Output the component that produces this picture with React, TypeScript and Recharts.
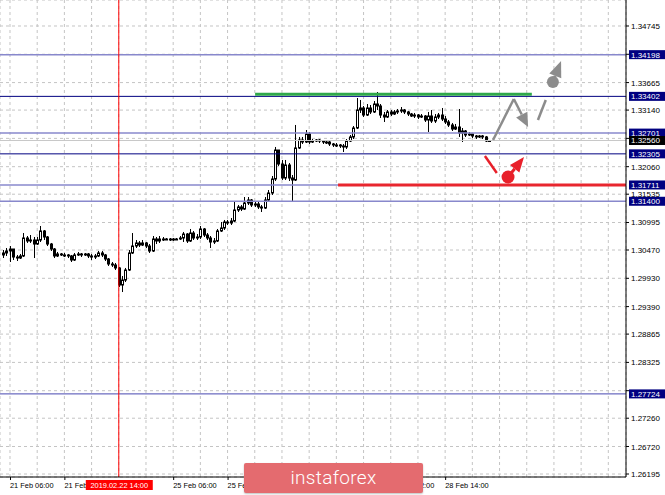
import React from 'react';
import { ComposedChart, Bar, XAxis, YAxis, CartesianGrid, ReferenceLine } from 'recharts';

// EURUSD-style H1 bars; bar 0 = 21 Feb 06:00, first bar in the list is index -2
const firstIndex = -2;
const firstOpen = 1.30375;
const closes = [
  1.30413, 1.30451, 1.30489, 1.30336, 1.30317, 1.30356, 1.30699, 1.30642, 1.30661, 1.30584,
  1.30661, 1.30833, 1.30718, 1.30584, 1.30489, 1.30356, 1.30394, 1.30375, 1.30375, 1.30356,
  1.30279, 1.30375, 1.30394, 1.30375, 1.30394, 1.30356, 1.30336, 1.30356, 1.30413, 1.30375,
  1.30298, 1.30203, 1.30184, 1.30127, 1.29802, 1.29897, 1.30088, 1.30413, 1.30546, 1.30604,
  1.30565, 1.30604, 1.30546, 1.30451, 1.30680, 1.30642, 1.30680, 1.30680, 1.30680, 1.30661,
  1.30680, 1.30680, 1.30699, 1.30775, 1.30642, 1.30794, 1.30699, 1.30718, 1.30871, 1.30756,
  1.30699, 1.30623, 1.30642, 1.30833, 1.30890, 1.31004, 1.30985, 1.31023, 1.31233, 1.31291,
  1.31252, 1.31367, 1.31424, 1.31329, 1.31348, 1.31291, 1.31271, 1.31424, 1.31558, 1.31825,
  1.32378, 1.32111, 1.31844, 1.32092, 1.31844, 1.31806, 1.32417, 1.32569, 1.32531, 1.32684,
  1.32531, 1.32550, 1.32569, 1.32550, 1.32531, 1.32531, 1.32493, 1.32474, 1.32474, 1.32455,
  1.32436, 1.32550, 1.32627, 1.32798, 1.33142, 1.33180, 1.33046, 1.33180, 1.33104, 1.33256,
  1.33218, 1.33046, 1.33008, 1.33104, 1.33065, 1.33104, 1.33123, 1.33142, 1.33104, 1.33065,
  1.33027, 1.33046, 1.33008, 1.33027, 1.32951, 1.33027, 1.32932, 1.33008, 1.33046, 1.32970,
  1.32913, 1.32856, 1.32779, 1.32817, 1.32703, 1.32741, 1.32665, 1.32684, 1.32646, 1.32627,
  1.32646, 1.32627, 1.32550, 1.32560,
];
const highs = [
  1.30470, 1.30508, 1.30546, 1.30489, 1.30375, 1.30394, 1.30794, 1.30737, 1.30756, 1.30718,
  1.30718, 1.30928, 1.30852, 1.30737, 1.30604, 1.30508, 1.30432, 1.30413, 1.30413, 1.30394,
  1.30375, 1.30413, 1.30432, 1.30413, 1.30413, 1.30413, 1.30394, 1.30394, 1.30451, 1.30451,
  1.30394, 1.30317, 1.30241, 1.30222, 1.30146, 1.29974, 1.30127, 1.30470, 1.30794, 1.30661,
  1.30642, 1.30661, 1.30623, 1.30584, 1.30737, 1.30718, 1.30737, 1.30718, 1.30699, 1.30699,
  1.30699, 1.30699, 1.30737, 1.30814, 1.30794, 1.30871, 1.30833, 1.30775, 1.30928, 1.30890,
  1.30794, 1.30737, 1.30699, 1.30871, 1.31004, 1.31043, 1.31043, 1.31081, 1.31386, 1.31329,
  1.31329, 1.31481, 1.31481, 1.31443, 1.31386, 1.31386, 1.31329, 1.31481, 1.31615, 1.31882,
  1.32436, 1.32378, 1.32188, 1.32188, 1.32130, 1.31901, 1.32856, 1.32627, 1.32627, 1.32760,
  1.32722, 1.32588, 1.32588, 1.32588, 1.32569, 1.32569, 1.32550, 1.32512, 1.32512, 1.32493,
  1.32493, 1.32588, 1.32665, 1.32836, 1.33371, 1.33333, 1.33218, 1.33256, 1.33237, 1.33313,
  1.33485, 1.33256, 1.33104, 1.33142, 1.33142, 1.33142, 1.33161, 1.33199, 1.33161, 1.33123,
  1.33085, 1.33085, 1.33065, 1.33065, 1.33046, 1.33104, 1.33142, 1.33065, 1.33085, 1.33180,
  1.33027, 1.32951, 1.32894, 1.32875, 1.33161, 1.32798, 1.32760, 1.32722, 1.32684, 1.32665,
  1.32665, 1.32665, 1.32646, 1.32569,
];
const lows = [
  1.30317, 1.30356, 1.30241, 1.30279, 1.30260, 1.30298, 1.30336, 1.30604, 1.30604, 1.30317,
  1.30565, 1.30623, 1.30661, 1.30546, 1.30451, 1.30317, 1.30336, 1.30356, 1.30336, 1.30317,
  1.30241, 1.30260, 1.30356, 1.30336, 1.30356, 1.30317, 1.30279, 1.30298, 1.30336, 1.30336,
  1.30260, 1.30165, 1.30146, 1.30088, 1.29764, 1.29668, 1.29859, 1.30069, 1.30394, 1.30508,
  1.30527, 1.30546, 1.30508, 1.30413, 1.30432, 1.30584, 1.30604, 1.30642, 1.30661, 1.30642,
  1.30642, 1.30661, 1.30661, 1.30623, 1.30604, 1.30623, 1.30661, 1.30661, 1.30680, 1.30718,
  1.30661, 1.30508, 1.30584, 1.30623, 1.30814, 1.30852, 1.30947, 1.30947, 1.31004, 1.31195,
  1.31214, 1.31233, 1.31329, 1.31291, 1.31291, 1.31252, 1.31195, 1.31252, 1.31405, 1.31520,
  1.31787, 1.32073, 1.31806, 1.31806, 1.31787, 1.31405, 1.31787, 1.32398, 1.32493, 1.32512,
  1.32493, 1.32512, 1.32531, 1.32512, 1.32493, 1.32493, 1.32455, 1.32436, 1.32436, 1.32417,
  1.32340, 1.32398, 1.32531, 1.32588, 1.32779, 1.33085, 1.33008, 1.33027, 1.33065, 1.33085,
  1.33142, 1.32989, 1.32913, 1.32989, 1.33027, 1.33046, 1.33065, 1.33085, 1.33065, 1.33027,
  1.33008, 1.32989, 1.32970, 1.32989, 1.32913, 1.32722, 1.32894, 1.32894, 1.32970, 1.32932,
  1.32875, 1.32817, 1.32741, 1.32760, 1.32627, 1.32531, 1.32627, 1.32646, 1.32607, 1.32588,
  1.32607, 1.32588, 1.32531, 1.32531,
];

// time axis: label every 16 bars, grid every 8.
// 26 Feb 14:00 / 27 Feb 06:00 sit fully under the logo
const labelBars = [0, 16, 48, 64, 112, 128];
const timeLabels = ['21 Feb 06:00', '21 Feb 22:00', '25 Feb 06:00', '25 Feb 22:00', '27 Feb 22:00', '28 Feb 14:00'];
const tickOnlyBars = [80, 96];
const gridBars = [0, 8, 16, 24, 32, 40, 48, 56, 64, 72, 80, 88, 96, 104, 112, 120, 128, 136, 144, 152, 160, 168, 176];

// price scale ticks
const priceTicks = [1.34745, 1.34205, 1.33665, 1.33140, 1.32600, 1.32060, 1.31535, 1.30995, 1.30470,
  1.29930, 1.29390, 1.28865, 1.28325, 1.27785, 1.27260, 1.26720, 1.26195];
const hiddenTicks = [1.34205, 1.32600, 1.27785];

// horizontal levels
const levelPrices = [1.34198, 1.33402, 1.32701, 1.32560, 1.32305, 1.31711, 1.31400, 1.27724];
const levelKinds = ['light', 'dark', 'light', 'bid', 'dark', 'light', 'light', 'mid'];

// crosshair bar with its date box on the time axis
const markedBar = 32;
const markedLabel = '2019.02.22 14:00';

const resistancePrice = 1.33440;
const resistanceFrom = 72.1;
const resistanceTo = 153.5;
const supportPrice = 1.31711;
const supportFrom = 96.5;

// forecast arrows (bar index, price)
const grayPath = [[142.1, 1.32569], [148.2, 1.33352], [152.4, 1.32817]];
const grayDash = [[155.3, 1.32951], [157.6, 1.33333]];
const grayPin = [[159.7, 1.33676], [162.1, 1.34077]];
const redDash = [[139.7, 1.32264], [143.2, 1.31940]];
const redPin = [[146.5, 1.31863], [151.2, 1.32245]];

const X_MIN = -2.94;
const X_MAX = 181.2;
const Y_MIN = 1.26138;
const Y_MAX = 1.35241;

const FONT = '"Liberation Sans", Arial, sans-serif';

const rows = closes.map((close, k) => {
  const open = k === 0 ? firstOpen : closes[k - 1];
  return { i: firstIndex + k, open, close, high: highs[k], low: lows[k], range: [lows[k], highs[k]] };
});

const Candle = (props: any) => {
  const { x, y, width, height, payload } = props;
  if (!payload) return null;
  const { open, close, high, low } = payload;
  const top = Math.min(y, y + height);
  const h = Math.abs(height);
  const cx = Math.round(x + width / 2) + 0.5;
  const k = high - low > 0 ? h / (high - low) : 0;
  const yO = top + (high - open) * k;
  const yC = top + (high - close) * k;
  const bTop = Math.min(yO, yC);
  const bH = Math.max(Math.abs(yO - yC), 1);
  const bull = close >= open;
  return (
    <g>
      <line x1={cx} x2={cx} y1={top} y2={top + h} stroke="#000" strokeWidth={1} />
      <rect x={cx - 1} y={bTop} width={2} height={bH} fill={bull ? '#fff' : '#000'} stroke="#000" strokeWidth={1} />
    </g>
  );
};

const TimeTick = (props: any) => {
  const { x, y, payload } = props;
  const v = payload.value;
  if (v === markedBar) {
    // drawn after the 21 Feb 22:00 tick, so it covers that label like the terminal does
    return (
      <g>
        <rect x={x - 33} y={y + 3} width={67} height={10} fill="#ff0000" />
        <text x={x + 0.5} y={y + 11} fontFamily={FONT} fontSize={7.4} fill="#fff" textAnchor="middle">
          {markedLabel}
        </text>
      </g>
    );
  }
  const idx = labelBars.indexOf(v);
  if (idx < 0 && !tickOnlyBars.includes(v)) return null;
  return (
    <g>
      <line x1={x + 0.5} x2={x + 0.5} y1={y} y2={y + 3} stroke="#000" />
      {idx >= 0 && (
        <text x={x} y={y + 11} fontFamily={FONT} fontSize={7.4} fill="#000" textAnchor="start">
          {timeLabels[idx]}
        </text>
      )}
    </g>
  );
};

const PriceTick = (props: any) => {
  const { x, y, payload } = props;
  if (hiddenTicks.includes(payload.value)) return null;
  return (
    <text x={x} y={y + 3} fontFamily={FONT} fontSize={8} fill="#000" textAnchor="start">
      {payload.value.toFixed(5)}
    </text>
  );
};

const levelStroke = (kind: string) =>
  kind === 'dark' ? '#000080' : kind === 'mid' ? '#4848b0' : kind === 'bid' ? '#c8c8c8' : '#8888cc';

const levelLabel = (price: number, kind: string) => (p: any) => {
  const vb = p.viewBox;
  if (!vb) return null;
  const x = vb.x + vb.width + 3;
  return (
    <g>
      <rect x={x} y={vb.y - 4.5} width={38} height={9} fill={kind === 'bid' ? '#000' : '#000080'} />
      <text x={x + 2} y={vb.y + 3} fontFamily={FONT} fontSize={8} fill="#fff">{price.toFixed(5)}</text>
    </g>
  );
};

const arrowShape = (color: string, w: number, head: number) => (p: any) => {
  const { x1, y1, x2, y2 } = p;
  const dx = x2 - x1, dy = y2 - y1;
  const len = Math.hypot(dx, dy) || 1;
  const ux = dx / len, uy = dy / len;
  const bx = x2 - ux * head, by = y2 - uy * head;
  const nx = -uy, ny = ux, hw = head * 0.45;
  return (
    <g>
      <line x1={x1} y1={y1} x2={bx} y2={by} stroke={color} strokeWidth={w} />
      <polygon points={`${x2},${y2} ${bx + nx * hw},${by + ny * hw} ${bx - nx * hw},${by - ny * hw}`} fill={color} />
    </g>
  );
};

const plainShape = (color: string, w: number) => (p: any) => (
  <line x1={p.x1} y1={p.y1} x2={p.x2} y2={p.y2} stroke={color} strokeWidth={w} />
);

const pinShape = (color: string, r: number, head: number) => (p: any) => {
  const { x1, y1, x2, y2 } = p;
  const dx = x2 - x1, dy = y2 - y1;
  const len = Math.hypot(dx, dy) || 1;
  const ux = dx / len, uy = dy / len;
  const bx = x2 - ux * head, by = y2 - uy * head;
  const nx = -uy, ny = ux, hw = head * 0.4;
  return (
    <g>
      <line x1={x1} y1={y1} x2={bx} y2={by} stroke={color} strokeWidth={3} />
      <polygon points={`${x2},${y2} ${bx + nx * hw},${by + ny * hw} ${bx - nx * hw},${by - ny * hw}`} fill={color} />
      <circle cx={x1} cy={y1} r={r} fill={color} />
    </g>
  );
};

const seg = (pts: number[][]) => pts.map(([x, y]) => ({ x, y }));

export default function App() {
  return (
    <div style={{ position: 'absolute', left: 0, top: 0, width: 665, height: 495, background: '#fff' }}>
      <style>{'body{margin:0}'}</style>
      <ComposedChart width={665} height={495} data={rows} margin={{ top: 0, right: 0, bottom: 0, left: 0 }}>
        <CartesianGrid stroke="#c4c4c4" strokeDasharray="3 3" />
        <XAxis
          type="number"
          dataKey="i"
          domain={[X_MIN, X_MAX]}
          ticks={gridBars}
          tick={<TimeTick />}
          tickLine={false}
          tickSize={0}
          tickMargin={0}
          axisLine={{ stroke: '#000' }}
          height={18}
          allowDataOverflow
          interval={0}
        />
        <YAxis
          orientation="right"
          domain={[Y_MIN, Y_MAX]}
          ticks={priceTicks}
          tick={<PriceTick />}
          tickLine={{ stroke: '#000' }}
          tickSize={3}
          tickMargin={2}
          axisLine={{ stroke: '#000' }}
          width={39}
          allowDataOverflow
          interval={0}
        />
        {levelPrices.map((p, k) => (
          <ReferenceLine
            key={p}
            y={p}
            stroke={levelStroke(levelKinds[k])}
            strokeWidth={levelKinds[k] === 'light' ? 1.5 : 1}
            label={levelLabel(p, levelKinds[k])}
          />
        ))}
        <ReferenceLine
          segment={[{ x: resistanceFrom, y: resistancePrice }, { x: resistanceTo, y: resistancePrice }]}
          stroke="#2fa84a"
          strokeWidth={3}
        />
        <ReferenceLine
          segment={[{ x: supportFrom, y: supportPrice }, { x: X_MAX, y: supportPrice }]}
          stroke="#e8262e"
          strokeWidth={3}
        />
        <ReferenceLine x={markedBar} stroke="#ff0000" strokeWidth={1} />
        <Bar dataKey="range" barSize={3} shape={<Candle />} isAnimationActive={false} />
        <ReferenceLine segment={seg([grayPath[0], grayPath[1]])} shape={plainShape('#8c8c8c', 2.5)} />
        <ReferenceLine segment={seg([grayPath[1], grayPath[2]])} shape={arrowShape('#8c8c8c', 2.5, 14)} />
        <ReferenceLine segment={seg(grayDash)} shape={plainShape('#8c8c8c', 2.5)} />
        <ReferenceLine segment={seg(grayPin)} shape={pinShape('#8c8c8c', 6, 16)} />
        <ReferenceLine segment={seg(redDash)} shape={plainShape('#e8202a', 2.5)} />
        <ReferenceLine segment={seg(redPin)} shape={pinShape('#e8202a', 6.5, 15)} />
      </ComposedChart>
      <div
        style={{
          position: 'absolute', left: 244, top: 463, width: 179, height: 30, background: '#e46b6f',
          borderRadius: 2, color: '#fff', fontFamily: 'Roboto, "Open Sans", sans-serif', fontWeight: 300,
          fontSize: 19, lineHeight: '29px', textAlign: 'center', letterSpacing: 0.3,
          boxShadow: '0 1px 2px rgba(0,0,0,0.25)',
        }}
      >
        instaforex
      </div>
    </div>
  );
}
